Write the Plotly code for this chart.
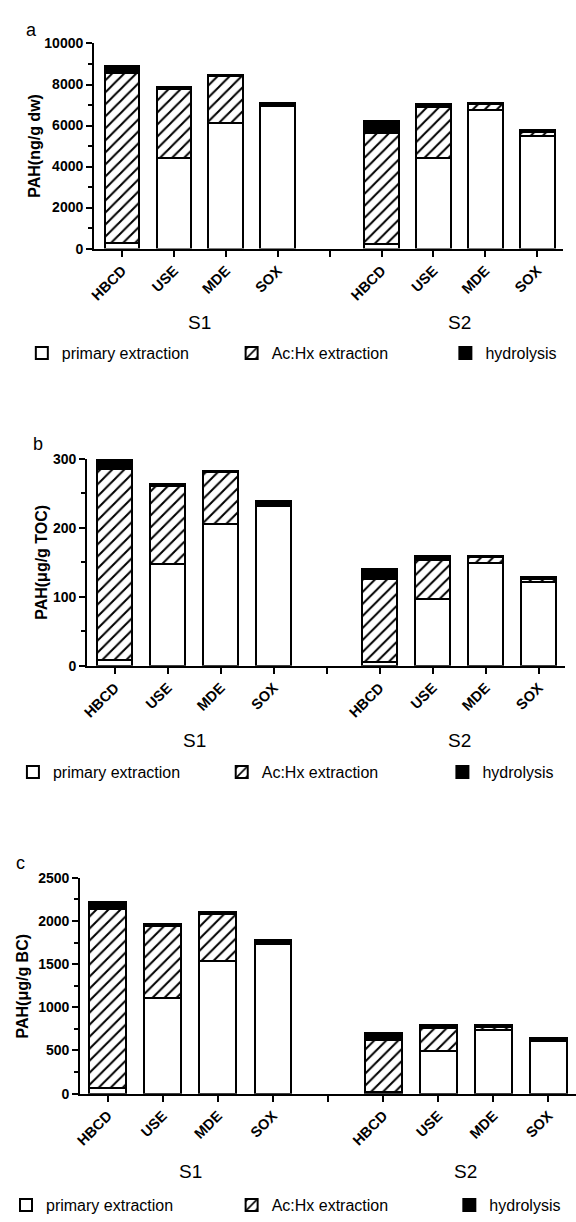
import plotly.graph_objects as go

# ---------------- data ----------------
methods = ["HBCD", "USE", "MDE", "SOX"]
sites = ["S1", "S2"]
positions = [0, 1, 2, 3, 5, 6, 7, 8]          # S1 methods, gap, S2 methods
tick_positions = [0, 1, 2, 3, 4, 5, 6, 7, 8]
tick_labels = methods + [""] + methods

series_names = ["primary extraction", "Ac:Hx extraction", "hydrolysis"]

# panel a : PAH (ng/g dw)
a_primary = [280, 4400, 6130, 6950, 240, 4420, 6760, 5500]
a_achx = [8280, 3400, 2290, 60, 5390, 2460, 290, 200]
a_hydro = [350, 70, 45, 110, 570, 180, 60, 70]

# panel b : PAH (ug/g TOC)
b_primary = [9, 147.6, 204.8, 231, 5, 97, 149.5, 122]
b_achx = [276.7, 113.4, 75.4, 4, 120.2, 56, 8, 4]
b_hydro = [11.9, 2, 1.7, 3, 14.3, 5.5, 2, 2]

# panel c : PAH (ug/g BC)
c_primary = [60, 1106, 1534, 1730, 20, 491, 740, 615]
c_achx = [2073, 833, 549, 20, 603, 265, 35, 5]
c_hydro = [90, 27, 19, 27, 76, 37, 18, 22]

panel_letters = ["a", "b", "c"]
y_titles = ["PAH(ng/g dw)", "PAH(\u03bcg/g TOC)", "PAH(\u03bcg/g BC)"]
y_ranges = [[0, 10000], [0, 300], [0, 2500]]
y_dticks = [2000, 100, 500]
y_minor = [1000, 50, 250]

# ---------------- layout geometry (pixels) ----------------
W, H = 576, 1222
FONT = "Liberation Sans, Arial, sans-serif"

panels = [
    dict(x0=89, x1=563, xr=[-0.54, 8.5], ytop=36, ybot=244, letter=(26, 22), ytitle_x=28,
         site_y=319, legend_y=350, legend_text_x=[62, 274, 490]),
    dict(x0=82, x1=565, xr=[-0.52, 8.5], ytop=457, ybot=667, letter=(32, 442), ytitle_x=36,
         site_y=743, legend_y=775, legend_text_x=[53, 264, 487]),
    dict(x0=75, x1=576, xr=[-0.5, 8.5], ytop=882, ybot=1101, letter=(15, 867), ytitle_x=17,
         site_y=1180, legend_y=1214, legend_text_x=[45, 274, 494]),
]
LEGEND_TEXT_OFFSET = 46   # px from legend box left edge to its text

data_sets = [
    (a_primary, a_achx, a_hydro),
    (b_primary, b_achx, b_hydro),
    (c_primary, c_achx, c_hydro),
]

fig = go.Figure()
annotations = []
layout = dict(
    width=W, height=H,
    margin=dict(l=0, r=0, t=0, b=0),
    paper_bgcolor="white", plot_bgcolor="white",
    barmode="stack",
    font=dict(family=FONT, color="black"),
)

styles = [
    dict(color="white", pattern=None),
    dict(color="white", pattern=dict(shape="/", fgcolor="#000000", bgcolor="#ffffff",
                                     fgopacity=1, fillmode="replace",
                                     size=8.5, solidity=0.24)),
    dict(color="black", pattern=None),
]

for i, (p, ds) in enumerate(zip(panels, data_sets)):
    n = "" if i == 0 else str(i + 1)
    xa, ya = "x" + n, "y" + n
    for s, (name, vals, st) in enumerate(zip(series_names, ds, styles)):
        k = i * 3 + s + 1
        leg = "legend" if k == 1 else "legend" + str(k)
        marker = dict(color=st["color"], line=dict(color="black", width=2))
        if st["pattern"]:
            marker["pattern"] = st["pattern"]
        fig.add_trace(go.Bar(
            x=positions, y=vals, name=name, width=0.67,
            marker=marker, xaxis=xa, yaxis=ya, legend=leg,
            showlegend=True,
        ))
        layout[leg] = dict(
            orientation="h",
            x=max(0, p["legend_text_x"][s] - LEGEND_TEXT_OFFSET) / W, xanchor="left",
            y=1 - p["legend_y"] / H, yanchor="middle",
            font=dict(family=FONT, size=16, color="black"),
            bgcolor="rgba(0,0,0,0)", itemclick=False, itemdoubleclick=False,
        )

    layout["xaxis" + n] = dict(
        domain=[p["x0"] / W, p["x1"] / W], range=p["xr"], anchor=ya,
        tickvals=tick_positions, ticktext=tick_labels, tickangle=-45,
        ticks="outside", ticklen=6, tickwidth=2, tickcolor="black",
        showline=True, linecolor="black", linewidth=2,
        showgrid=False, zeroline=False, fixedrange=True,
        tickfont=dict(family=FONT, size=14.5, color="black", weight="bold"),
    )
    layout["yaxis" + n] = dict(
        domain=[1 - p["ybot"] / H, 1 - p["ytop"] / H], range=y_ranges[i], anchor=xa,
        dtick=y_dticks[i], tick0=0, tickformat="d",
        ticks="outside", ticklen=6, tickwidth=2, tickcolor="black",
        minor=dict(ticks="outside", ticklen=4, tickwidth=1.5, tickcolor="black", dtick=y_minor[i]),
        showline=True, linecolor="black", linewidth=2,
        showgrid=False, zeroline=False, fixedrange=True,
        tickfont=dict(family=FONT, size=14, color="black", weight="bold"),
    )
    annotations.append(dict(
        text=panel_letters[i], xref="paper", yref="paper",
        x=p["letter"][0] / W, y=1 - p["letter"][1] / H,
        xanchor="center", yanchor="middle", showarrow=False,
        font=dict(family=FONT, size=18, color="black"),
    ))
    annotations.append(dict(
        text=y_titles[i], xref="paper", yref="paper", textangle=-90,
        x=p["ytitle_x"] / W, y=1 - (p["ytop"] + p["ybot"]) / 2 / H,
        xanchor="center", yanchor="middle", showarrow=False,
        font=dict(family=FONT, size=16, color="black", weight="bold"),
    ))
    for s_lab, cx in zip(sites, [1.5, 6.5]):
        annotations.append(dict(
            text=s_lab, xref=xa, yref="paper", x=cx, y=1 - p["site_y"] / H,
            xanchor="center", yanchor="middle", showarrow=False,
            font=dict(family=FONT, size=19, color="black"),
        ))

layout["annotations"] = annotations
fig.update_layout(**layout)
fig.write_html("out.html")
